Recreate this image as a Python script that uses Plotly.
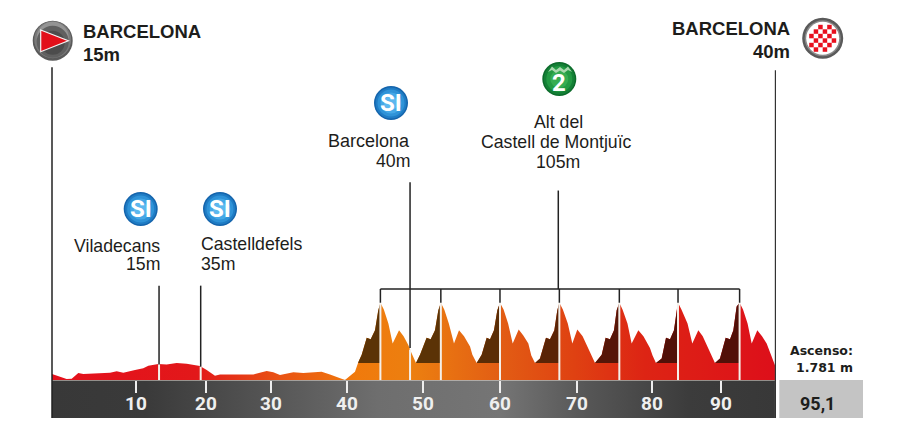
import numpy as np
import plotly.graph_objects as go

# profile, km / metres
profile_km = [
    0, 1.05, 1.93, 2.59, 3.46, 4.12, 5.44, 7.63, 8.51, 9.38, 10.92, 12.01, 12.67, 13.99, 15.08, 16.40,
    17.71, 19.47, 20.35, 21.44, 22.10, 24.29, 26.48, 28.24, 29.11, 29.99, 31.75, 33.06, 35.47, 36.57, 38.54,
    39.86, 40.29, 40.74, 41.40, 41.92, 42.49, 42.92, 43.20,
    43.65, 44.25, 44.81, 45.65, 46.25, 46.87, 47.22, 47.88, 48.41, 49.28, 49.81, 50.38, 50.82, 51.15,
    51.60, 52.20, 52.88, 53.54, 54.20, 54.99, 55.30, 55.86, 56.52, 57.18, 57.62, 58.14, 58.58, 58.93,
    59.40, 60.00, 60.60, 61.39, 62.00, 62.66, 63.05, 63.54, 64.19, 64.98, 65.51, 66.08, 66.47, 66.74,
    67.20, 67.85, 68.45, 69.10, 69.80, 70.55, 70.95, 71.43, 72.31, 72.83, 73.40, 73.93, 74.28, 74.63,
    75.05, 75.70, 76.25, 77.13, 77.80, 78.66, 79.00, 79.45, 80.20, 80.77, 81.30, 81.82, 82.17, 82.35,
    82.80, 83.60, 84.23, 85.02, 85.60, 86.34, 86.75, 87.21, 87.87, 88.62, 89.19, 89.63, 90.06, 90.45,
    90.90, 91.50, 92.04, 92.78, 93.40, 94.01, 94.50, 94.97, 95.1,
]
profile_m = [
    8, 4.5, 1.3, 1.8, 9.4, 8, 9, 9.9, 11.7, 9.9, 13.5, 16, 19.3, 21.5, 21, 22.9,
    22, 18.8, 13.5, 5.8, 7.6, 7.2, 7.6, 12.1, 10.3, 6.7, 10.3, 9.4, 11.2, 7.6, 0,
    11, 24, 34, 57, 55, 67, 94, 104,
    95, 76, 49, 67, 59, 47, 38, 23, 34, 57, 55, 67, 94, 104,
    95, 76, 49, 67, 59, 45, 34, 23, 34, 57, 55, 67, 94, 104,
    95, 76, 49, 68, 60, 49, 33, 23, 29, 57, 55, 67, 94, 104,
    95, 76, 49, 68, 59, 43, 33, 23, 34, 57, 55, 67, 94, 104,
    95, 76, 49, 67, 59, 43, 33, 23, 29, 57, 55, 67, 94, 104,
    95, 76, 49, 67, 59, 43, 33, 23, 29, 57, 55, 67, 99, 104,
    95, 76, 49, 67, 59, 49, 36, 23, 20,
]

climb_start = [40.29, 47.88, 55.86, 63.54, 71.43, 79.45, 87.21]
climb_top = [43.20, 51.15, 58.93, 66.74, 74.63, 82.35, 90.45]
climb_colors = ["#5b3306", "#5b3306", "#5a2d06", "#5a2406", "#561608", "#521008", "#521008"]
climb_base = 23

tick_pos = [11.05, 20.26, 28.81, 38.80, 48.80, 58.93, 69.06, 78.93, 88.0]
tick_labels = ["10", "20", "30", "40", "50", "60", "70", "80", "90"]

sprint_km = [14.08, 19.56, 47.1]
sprint_line_top = [127, 127, 266]
sprint_line_low = [21, 18, 43]
climb_line_km = 66.6
bracket_m = 122.5
total_km = 95.1

PLOT_W = 725
PLOT_H = 418
PLOT_L = 51


def fx(px):
    return (px - PLOT_L) / PLOT_W


def fy(py):
    return (PLOT_H - py) / PLOT_H


fig = go.Figure()

# grey distance band under the profile
fig.add_trace(go.Scatter(
    x=[0, total_km, total_km, 0], y=[0, 0, -51, -51], mode="lines", line=dict(width=0), fill="toself",
    fillgradient=dict(type="horizontal", start=0, stop=total_km, colorscale=[
        [0, "#383838"], [0.13, "#3a3a3a"], [0.3, "#555555"], [0.45, "#6e6e6e"], [0.62, "#757575"],
        [0.74, "#565656"], [0.88, "#3c3c3c"], [1, "#383838"]]),
))
fig.add_trace(go.Scatter(x=[0, total_km], y=[0, 0], mode="lines", line=dict(color="#e8e0d8", width=1)))

# coloured profile
fig.add_trace(go.Scatter(
    x=profile_km, y=profile_m, mode="lines", line=dict(width=0), fill="tozeroy",
    fillgradient=dict(type="horizontal", start=0, stop=total_km, colorscale=[
        [0, "#e4101c"], [0.2, "#e2181a"], [0.3, "#e84c14"], [0.42, "#f07a0c"], [0.5, "#ec7f10"],
        [0.62, "#e25d14"], [0.72, "#df4212"], [0.82, "#dd2414"], [1, "#dd0f1a"]]),
))

# dark climbs
km = np.array(profile_km)
alt = np.array(profile_m)
for start, top, color in zip(climb_start, climb_top, climb_colors):
    mask = (km >= start) & (km <= top)
    fig.add_trace(go.Scatter(
        x=list(km[mask]) + [top, start], y=list(alt[mask]) + [climb_base, climb_base],
        mode="lines", line=dict(width=0), fill="toself", fillcolor=color,
    ))

# white lines inside the profile
for pos in climb_top + sprint_km:
    fig.add_trace(go.Scatter(
        x=[pos, pos], y=[0, float(np.interp(pos, km, alt))], mode="lines",
        line=dict(color="#f4f0ea", width=2),
    ))

# black connectors
for pos, high, low in zip(sprint_km, sprint_line_top, sprint_line_low):
    fig.add_trace(go.Scatter(x=[pos, pos], y=[low, high], mode="lines", line=dict(color="#222222", width=1.5)))
fig.add_trace(go.Scatter(x=[climb_line_km, climb_line_km], y=[bracket_m, 255], mode="lines",
                         line=dict(color="#222222", width=1.5)))
fig.add_trace(go.Scatter(x=[climb_top[0], climb_top[-1]], y=[bracket_m, bracket_m], mode="lines",
                         line=dict(color="#222222", width=1.5)))
for pos in climb_top:
    fig.add_trace(go.Scatter(x=[pos, pos], y=[104, bracket_m], mode="lines", line=dict(color="#222222", width=1.5)))
fig.add_trace(go.Scatter(x=[0, 0], y=[-51, 421], mode="lines", line=dict(color="#222222", width=1.5)))
fig.add_trace(go.Scatter(x=[total_km + 0.08] * 2, y=[-51, 417], mode="lines", line=dict(color="#333333", width=1.5)))

fig.update_traces(hoverinfo="skip", showlegend=False)

shapes = []


def circle(px, py, r, color, line=None, line_w=0):
    shapes.append(dict(type="circle", xref="paper", yref="paper", x0=fx(px - r), x1=fx(px + r),
                       y0=fy(py + r), y1=fy(py - r), fillcolor=color, line=dict(color=line, width=line_w)))


def polygon(points, color, line=None, line_w=0):
    path = "M " + " L ".join(f"{fx(a):.5f},{fy(b):.5f}" for a, b in points) + " Z"
    shapes.append(dict(type="path", xref="paper", yref="paper", path=path, fillcolor=color,
                       line=dict(color=line, width=line_w)))


def blue_badge(px, py):
    for r, c in [(17, "#1464ac"), (15.5, "#1f7cc4"), (13.5, "#2f93d8"), (10.5, "#45a8e6"), (7, "#5cb8ee")]:
        circle(px, py, r, c)


# start badge
for r, dy, c in [(20, 0, "#5a5a5a"), (18.5, -1, "#7a7a7a"), (16, -3, "#949494"), (16, 1, "#606060"), (12, 2, "#4c4c4c")]:
    circle(52.7, 40.7 + dy, r, c)
polygon([(40.7, 30), (68.3, 40.7), (40.7, 51.7)], "#e2101a", "#f5f5f5", 1.2)

# finish badge
circle(822.7, 38.3, 20.5, "#5a5a5a")
circle(822.7, 38.3, 18, "#8a8a8a")
circle(822.7, 38.3, 16.5, "#ffffff")
cell = 4.5
for i in range(-4, 4):
    for j in range(-4, 4):
        cx = 822.7 + (i + 0.5) * cell
        cy = 38.3 + (j + 0.5) * cell
        if (i + j) % 2 == 0 and (cx - 822.7) ** 2 + (cy - 38.3) ** 2 < 15 ** 2:
            polygon([(cx - cell / 2, cy - cell / 2), (cx + cell / 2, cy - cell / 2),
                     (cx + cell / 2, cy + cell / 2), (cx - cell / 2, cy + cell / 2)], "#e8101e")

blue_badge(140.7, 209)
blue_badge(220, 209)
blue_badge(391, 103)

# mountain badge
for r, c in [(17, "#0c6b2b"), (15.5, "#148036"), (13, "#229a43"), (9, "#35ac52")]:
    circle(559.3, 79, r, c)
polygon([(548, 72), (552, 66.5), (556, 70), (560, 67), (564, 70), (568, 66.5), (572, 72), (568, 70), (564, 73),
         (560, 70.5), (556, 73), (552, 70)], "#a9d8ae")

# grey distance box
shapes.append(dict(type="rect", xref="paper", yref="paper", x0=fx(779.3), x1=fx(863), y0=fy(418), y1=fy(380),
                   fillcolor="#c4c4c4", line=dict(width=0)))

annotations = []


def label(px, py, text, size=17.7, anchor="left", bold=False, color="#1d1d1b", family="Liberation Sans"):
    if bold:
        text = f"<b>{text}</b>"
    annotations.append(dict(xref="paper", yref="paper", x=fx(px), y=fy(py), text=text, showarrow=False,
                            xanchor=anchor, yanchor="middle", borderpad=0, borderwidth=0,
                            font=dict(family=family, size=size, color=color)))


label(83, 31, "BARCELONA", 18.5, bold=True)
label(83, 55, "15m", 18.5, bold=True)
label(790, 29, "BARCELONA", 18.5, "right", True)
label(790, 52, "40m", 18.5, "right", True)

label(160, 246, "Viladecans", anchor="right")
label(160, 264, "15m", anchor="right")
label(201, 244, "Castelldefels")
label(201, 264, "35m")
label(410, 141, "Barcelona", 18, anchor="right")
label(410, 161, "40m", anchor="right")
label(558, 122, "Alt del", anchor="center")
label(556, 142, "Castell de Montjuïc", anchor="center")
label(558, 162, "105m", anchor="center")

for px, py, text in [(140.7, 209, "SI"), (220, 209, "SI"), (391, 103, "SI")]:
    label(px, py, text, 24, "center", True, "#ffffff", "Roboto")
label(559.3, 83, "2", 24, "center", True, "#ffffff", "Roboto")

label(853, 350, "Ascenso:", 12.5, "right", True, family="DejaVu Sans")
label(853, 367, "1.781 m", 12.5, "right", True, family="DejaVu Sans")
label(817, 403, "95,1", 18, "center", True, family="Roboto")

fig.update_layout(
    width=900,
    height=439,
    autosize=False,
    margin=dict(l=PLOT_L, r=124, t=0, b=21),
    plot_bgcolor="white",
    paper_bgcolor="white",
    showlegend=False,
    shapes=shapes,
    annotations=annotations,
    xaxis=dict(
        range=[-0.1315, 95.2385],
        tickmode="array",
        tickvals=tick_pos,
        ticktext=tick_labels,
        ticks="outside",
        ticklen=12,
        tickwidth=2,
        tickcolor="#eeeeee",
        tickfont=dict(family="Roboto", size=19, color="#efefef", weight="bold"),
        ticklabelstandoff=-6,
        showgrid=False,
        zeroline=False,
        showline=False,
        anchor="free",
        position=38 / PLOT_H,
    ),
    yaxis=dict(range=[-51.1, 511.4], visible=False, showgrid=False, zeroline=False),
)

fig.write_html("out.html", config={"displayModeBar": False}, post_script="document.body.style.margin='0';")
